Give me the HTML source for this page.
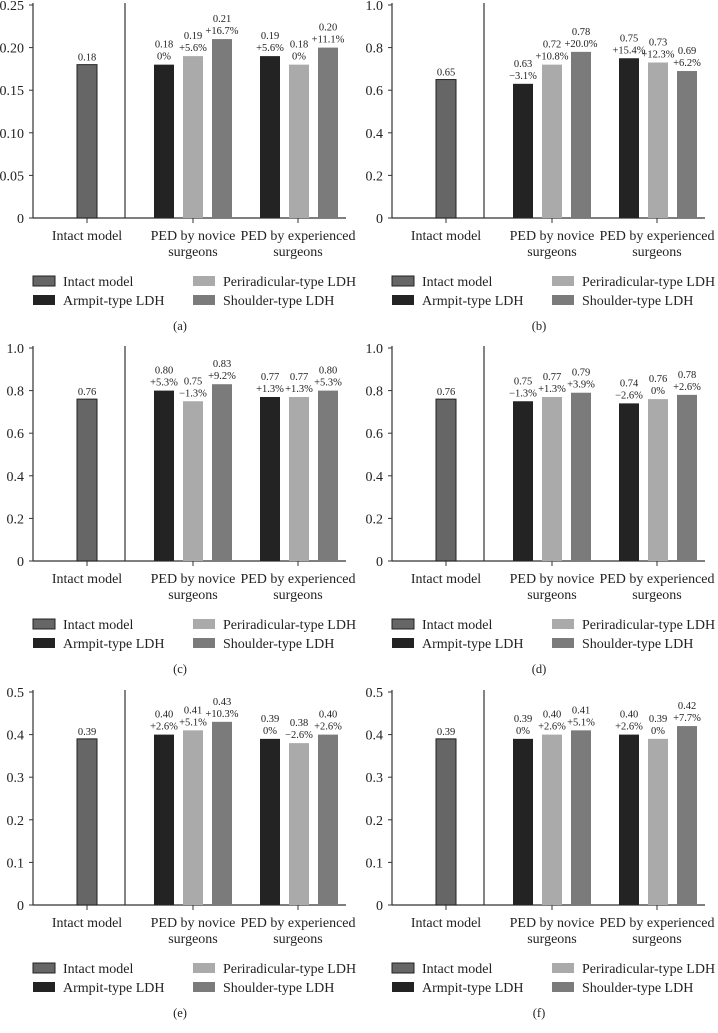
<!DOCTYPE html>
<html><head><meta charset="utf-8"><style>
body{margin:0;background:#fff}
svg{display:block;font-family:"Liberation Serif",serif}
</style></head><body>
<svg id="c" width="718" height="1033"></svg>
<script>
const panelLabels=["(a)","(b)","(c)","(d)","(e)","(f)"];
const yMax=[0.25,1.0,1.0,1.0,0.5,0.5];
const yTicks=[["0","0.05","0.10","0.15","0.20","0.25"],["0","0.2","0.4","0.6","0.8","1.0"],["0","0.2","0.4","0.6","0.8","1.0"],["0","0.2","0.4","0.6","0.8","1.0"],["0","0.1","0.2","0.3","0.4","0.5"],["0","0.1","0.2","0.3","0.4","0.5"]];
const intactVals=[0.18,0.65,0.76,0.76,0.39,0.39];
const noviceVals=[[0.18,0.19,0.21],[0.63,0.72,0.78],[0.80,0.75,0.83],[0.75,0.77,0.79],[0.40,0.41,0.43],[0.39,0.40,0.41]];
const noviceLbl=[["0.18","0.19","0.21"],["0.63","0.72","0.78"],["0.80","0.75","0.83"],["0.75","0.77","0.79"],["0.40","0.41","0.43"],["0.39","0.40","0.41"]];
const novicePct=[["0%","+5.6%","+16.7%"],["\u22123.1%","+10.8%","+20.0%"],["+5.3%","\u22121.3%","+9.2%"],["\u22121.3%","+1.3%","+3.9%"],["+2.6%","+5.1%","+10.3%"],["0%","+2.6%","+5.1%"]];
const expVals=[[0.19,0.18,0.20],[0.75,0.73,0.69],[0.77,0.77,0.80],[0.74,0.76,0.78],[0.39,0.38,0.40],[0.40,0.39,0.42]];
const expLbl=[["0.19","0.18","0.20"],["0.75","0.73","0.69"],["0.77","0.77","0.80"],["0.74","0.76","0.78"],["0.39","0.38","0.40"],["0.40","0.39","0.42"]];
const expPct=[["+5.6%","0%","+11.1%"],["+15.4%","+12.3%","+6.2%"],["+1.3%","+1.3%","+5.3%"],["\u22122.6%","0%","+2.6%"],["0%","\u22122.6%","+2.6%"],["+2.6%","0%","+7.7%"]];
const seriesNames=["Intact model","Armpit-type LDH","Periradicular-type LDH","Shoulder-type LDH"];
const colors=["#666","#232323","#aaa","#7b7b7b"];
const svg=document.getElementById('c');
const NS="http://www.w3.org/2000/svg";
function mk(t,a,p){const e=document.createElementNS(NS,t);for(const k in a)e.setAttribute(k,a[k]);(p||svg).appendChild(e);return e;}
function txt(x,y,s,size,anchor,p){const e=mk('text',{x:x,y:y,'font-size':size,'text-anchor':anchor||'middle',fill:'#222'},p);e.textContent=s;return e;}
for(let i=0;i<6;i++){
  const ox=(i%2)*359, oy=[0,343,687][Math.floor(i/2)];
  const g=mk('g',{transform:`translate(${ox},${oy})`});
  
  
  const y0=218,yT=5;
  const ys=v=>y0-(v/yMax[i])*(y0-yT);
  const ax=mk('line',{x1:33,y1:3,x2:33,y2:y0,stroke:'#333','stroke-width':1.2},g);
  
  const bx=mk('line',{x1:33,y1:y0,x2:346,y2:y0,stroke:'#333','stroke-width':1.2},g);
  
  const dv=mk('line',{x1:125,y1:3,x2:125,y2:y0,stroke:'#333','stroke-width':1.2},g);
  
  yTicks[i].forEach((t,k)=>{
    const v=yMax[i]*k/(yTicks[i].length-1);
    mk('line',{x1:29,y1:ys(v),x2:33,y2:ys(v),stroke:'#333'},g);
    const e=txt(24,ys(v)+5,t,14,'end',g);
    
  });
  [[87,["Intact model"]],[193,["PED by novice","surgeons"]],[298,["PED by experienced","surgeons"]]].forEach(([cx,ls])=>{
    mk('line',{x1:cx,y1:y0,x2:cx,y2:y0+5,stroke:'#333'},g);
    ls.forEach((l,k)=>{const e=txt(cx,y0+22+k*16,l,14,'middle',g);});
  });
  function bar(x,v,c,lbl,pct,name){
    const r=mk('rect',{x:x,y:ys(v),width:20,height:y0-ys(v),fill:c,stroke:c==colors[0]?'#222':'none','stroke-width':1},g);
    
    if(pct!==null){txt(x+10,ys(v)-17,lbl,10.5,'middle',g);txt(x+10,ys(v)-5,pct,10.5,'middle',g);}
    else txt(x+10,ys(v)-4,lbl,10.5,'middle',g);
  }
  bar(77,intactVals[i],colors[0],intactVals[i].toFixed(2),null,'bar-intact');
  [154,183,212].forEach((x,k)=>bar(x,noviceVals[i][k],colors[k+1],noviceLbl[i][k],novicePct[i][k],'bar-novice-'+k));
  [260,289,318].forEach((x,k)=>bar(x,expVals[i][k],colors[k+1],expLbl[i][k],expPct[i][k],'bar-experienced-'+k));
  const pos=[[33,281],[33,300],[193,281],[193,300]];
  seriesNames.forEach((n,k)=>{
    const [lx,ly]=pos[k];
    const lg=mk('g',{},g);
    
    mk('rect',{x:lx,y:ly-5,width:22,height:10,fill:colors[k],stroke:k==0?'#222':'none'},lg);
    txt(lx+30,ly+5,n,14,'start',lg);
  });
  const pl=txt(180,330,panelLabels[i],12.5,'middle',g);
  
}
</script>
</body></html>
